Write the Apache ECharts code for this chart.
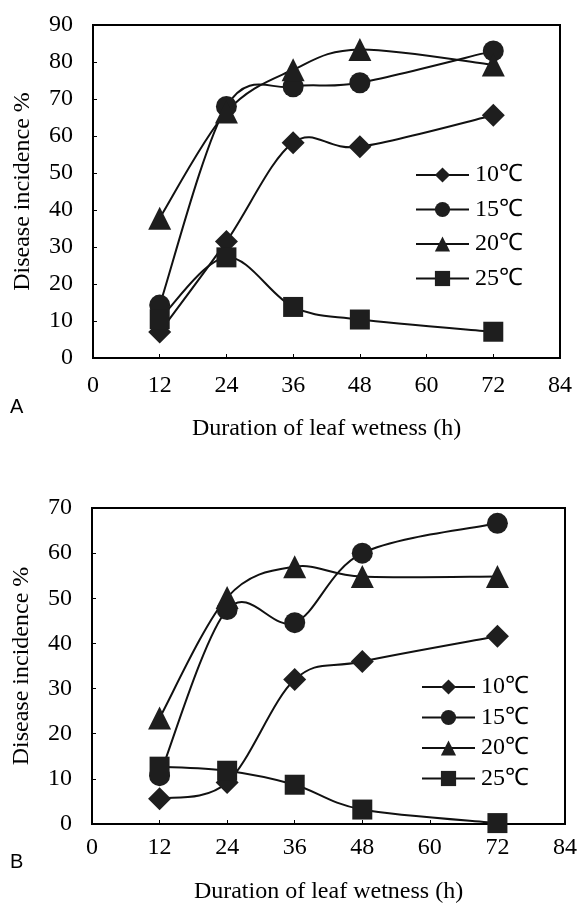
<!DOCTYPE html>
<html><head><meta charset="utf-8">
<script src="https://cdn.jsdelivr.net/npm/echarts@6/dist/echarts.min.js"></script>
<style>html,body{margin:0;padding:0;background:#fff}#c{width:580px;height:914px}</style>
</head><body><div id="c"></div>
<script>
// ---- data ----
const hours = [12, 24, 36, 48, 72];
const seriesNames = ['10℃', '15℃', '20℃', '25℃'];
const xAxisTitle = 'Duration of leaf wetness (h)';
const yAxisTitle = 'Disease incidence %';

// Panel A
const a10 = [7.0, 31.5, 58.2, 57.1, 65.6];
const a15 = [14.3, 68.0, 73.3, 74.4, 83.0];
const a20 = [37.8, 66.5, 77.9, 83.4, 79.2];
const a25 = [10.5, 27.2, 13.8, 10.4, 7.1];
// Panel B
const b10 = [5.6, 9.2, 32.0, 36.0, 41.6];
const b15 = [10.7, 47.5, 44.6, 60.0, 66.6];
const b20 = [23.5, 50.2, 57.0, 54.8, 54.8];
const b25 = [12.7, 11.8, 8.7, 3.2, 0.2];

const symbols = ['diamond', 'circle', 'triangle', 'rect'];
const symbolSizes = [23, 21, 23, 20];

const SERIF = '"Liberation Serif","Times New Roman",serif';
const SANS = '"Liberation Sans",Arial,sans-serif';

function pairs(vals) { return hours.map((h, i) => [h, vals[i]]); }

// markers (and legend entries)
function markerSeries(vals, k, idx) {
  return {
    name: seriesNames[k], type: 'line', xAxisIndex: idx, yAxisIndex: idx,
    data: pairs(vals),
    symbol: symbols[k], symbolSize: symbolSizes[k], showAllSymbol: true,
    lineStyle: { color: '#111', width: 2, opacity: 0 },
    itemStyle: { color: '#1e1e1e', borderWidth: 0 },
    emphasis: { disabled: true }, animation: false, z: 3
  };
}
// smoothed connecting curve (Catmull-Rom style, like spreadsheet smoothing), positioned via the axes
function curveSeries(vals, idx) {
  const pts = pairs(vals);
  return {
    type: 'custom', coordinateSystem: 'cartesian2d', xAxisIndex: idx, yAxisIndex: idx,
    data: [pts[0]], silent: true, z: 2, animation: false, clip: false,
    renderItem: function (params, api) {
      const p = pts.map(d => api.coord(d));
      let d = 'M' + p[0][0] + ' ' + p[0][1];
      const t = 1 / 6;
      for (let i = 0; i < p.length - 1; i++) {
        const p0 = p[Math.max(i - 1, 0)], p1 = p[i], p2 = p[i + 1], p3 = p[Math.min(i + 2, p.length - 1)];
        const c1 = [p1[0] + (p2[0] - p0[0]) * t, p1[1] + (p2[1] - p0[1]) * t];
        const c2 = [p2[0] - (p3[0] - p1[0]) * t, p2[1] - (p3[1] - p1[1]) * t];
        d += ' C' + c1[0] + ' ' + c1[1] + ' ' + c2[0] + ' ' + c2[1] + ' ' + p2[0] + ' ' + p2[1];
      }
      return { type: 'path', shape: { pathData: d }, style: { fill: null, stroke: '#111', lineWidth: 2 } };
    }
  };
}

function xAxis(idx, gap, margin) {
  return {
    type: 'value', gridIndex: idx, min: 0, max: 84, interval: 12,
    axisLine: { show: true, lineStyle: { color: '#000', width: 2 } },
    axisTick: { show: true, inside: true, length: 4, lineStyle: { color: '#000', width: 1 } },
    axisLabel: { color: '#000', fontFamily: SERIF, fontSize: 24, margin: margin },
    splitLine: { show: false },
    name: xAxisTitle, nameLocation: 'middle', nameGap: gap,
    nameTextStyle: { color: '#000', fontFamily: SERIF, fontSize: 24 }
  };
}
function yAxis(idx, max) {
  return {
    type: 'value', gridIndex: idx, min: 0, max: max, interval: 10,
    axisLine: { show: true, lineStyle: { color: '#000', width: 2 } },
    axisTick: { show: true, inside: true, length: 4, lineStyle: { color: '#000', width: 1 } },
    axisLabel: { color: '#000', fontFamily: SERIF, fontSize: 24, margin: 20 },
    splitLine: { show: false },
    name: yAxisTitle, nameLocation: 'middle', nameRotate: 90, nameGap: 58,
    nameTextStyle: { color: '#000', fontFamily: SERIF, fontSize: 24 }
  };
}
function legend(left, top, gap) {
  return {
    orient: 'vertical', left: left, top: top, itemWidth: 53, itemHeight: 19, itemGap: gap,
    data: seriesNames, selectedMode: false, padding: 0,
    textStyle: { color: '#000', fontFamily: SERIF, fontSize: 24, lineHeight: 24, padding: [0, 0, 0, 1] },
    lineStyle: { color: '#111', width: 2, opacity: 1 }
  };
}

const chart = echarts.init(document.getElementById('c'), null, { renderer: 'canvas' });
chart.setOption({
  animation: false,
  backgroundColor: '#fff',
  grid: [
    { left: 93, top: 25, width: 467, height: 333, show: true, borderColor: '#000', borderWidth: 2, backgroundColor: 'transparent' },
    { left: 92, top: 508, width: 473, height: 316, show: true, borderColor: '#000', borderWidth: 2, backgroundColor: 'transparent' }
  ],
  xAxis: [xAxis(0, 59, 16), xAxis(1, 56, 12)],
  yAxis: [yAxis(0, 90), yAxis(1, 70)],
  legend: [legend(415, 163, 10.5), legend(421, 675, 6.5)],
  graphic: [
    { type: 'text', left: 10, top: 397, style: { text: 'A', fontFamily: SANS, fontSize: 20, fill: '#000' } },
    { type: 'text', left: 10, top: 852, style: { text: 'B', fontFamily: SANS, fontSize: 20, fill: '#000' } }
  ],
  series: [
    curveSeries(a10, 0), curveSeries(a15, 0), curveSeries(a20, 0), curveSeries(a25, 0),
    curveSeries(b10, 1), curveSeries(b15, 1), curveSeries(b20, 1), curveSeries(b25, 1),
    markerSeries(a10, 0, 0), markerSeries(a15, 1, 0), markerSeries(a20, 2, 0), markerSeries(a25, 3, 0),
    markerSeries(b10, 0, 1), markerSeries(b15, 1, 1), markerSeries(b20, 2, 1), markerSeries(b25, 3, 1)
  ]
});
</script></body></html>
